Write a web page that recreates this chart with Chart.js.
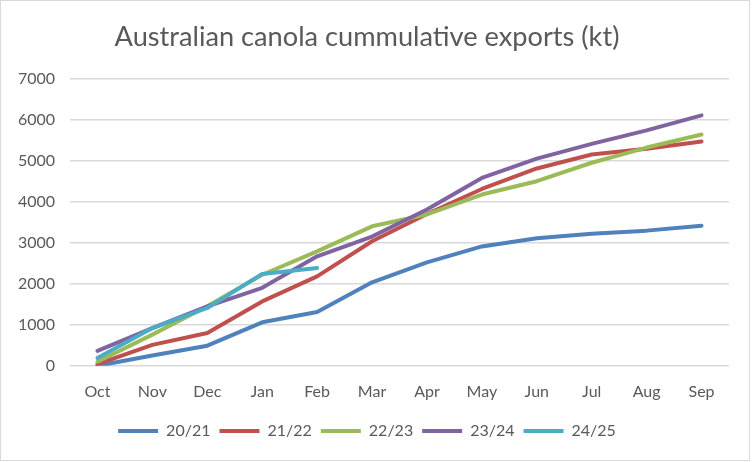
<!DOCTYPE html>
<html>
<head>
<meta charset="utf-8">
<script src="https://cdn.jsdelivr.net/npm/chart.js@4.4.0/dist/chart.umd.min.js"></script>
<style>
  html, body { margin: 0; padding: 0; background: #fff; }
  #wrap { position: absolute; left: 0; top: 0; width: 750px; height: 461px; border: 1px solid #d9d9d9; box-sizing: border-box; background: #fff; }
  canvas { position: absolute; left: 0; top: 0; }
</style>
</head>
<body>
<div id="wrap"><canvas id="c" width="748" height="459"></canvas></div>
<script>
const months = ['Oct','Nov','Dec','Jan','Feb','Mar','Apr','May','Jun','Jul','Aug','Sep'];
const seriesNames = ['20/21','21/22','22/23','23/24','24/25'];
const s2021 = [0, 250, 490, 1060, 1310, 2035, 2520, 2910, 3110, 3220, 3295, 3415];
const s2122 = [40, 510, 800, 1570, 2180, 3035, 3700, 4310, 4810, 5150, 5290, 5470];
const s2223 = [100, 760, 1450, 2220, 2790, 3400, 3690, 4175, 4500, 4950, 5320, 5640];
const s2324 = [365, 920, 1450, 1900, 2670, 3150, 3810, 4580, 5050, 5410, 5740, 6105];
const s2425 = [190, 920, 1410, 2240, 2385];
const yTicks = [0, 1000, 2000, 3000, 4000, 5000, 6000, 7000];

const colors = ['#4F81BD', '#C0504D', '#9BBB59', '#8064A2', '#4BACC6'];
const values = [s2021, s2122, s2223, s2324, s2425];

const datasets = values.map((v, i) => ({
  label: seriesNames[i],
  data: v,
  borderColor: colors[i],
  backgroundColor: colors[i],
  borderWidth: 4,
  borderCapStyle: 'round',
  borderJoinStyle: 'round',
  pointRadius: 0,
  pointHoverRadius: 0,
  tension: 0,
  fill: false,
  order: 5 - i
}));

new Chart(document.getElementById('c'), {
  type: 'line',
  data: { labels: months, datasets },
  options: {
    responsive: false,
    animation: false,
    devicePixelRatio: 1,
    layout: { padding: { left: 4, right: 20, top: 10, bottom: 11 } },
    plugins: {
      title: {
        display: true,
        text: 'Australian canola cummulative exports (kt)',
        color: '#595959',
        font: { family: 'Lato', size: 27.2, weight: 'normal' },
        padding: { top: 10, bottom: 25 }
      },
      legend: {
        position: 'bottom',
        labels: {
          usePointStyle: true,
          pointStyle: 'line',
          pointStyleWidth: 40,
          boxHeight: 4,
          color: '#595959',
          font: { family: 'Lato', size: 16 },
          padding: 9,
          sort: (a, b) => a.datasetIndex - b.datasetIndex
        }
      },
      tooltip: { enabled: false }
    },
    scales: {
      x: {
        offset: true,
        grid: { display: false },
        border: { display: false },
        afterFit: (scale) => { scale.height += 5; },
        ticks: { color: '#595959', font: { family: 'Lato', size: 16 }, padding: 8, maxRotation: 0 }
      },
      y: {
        min: 0,
        max: 7000,
        afterBuildTicks: (scale) => { scale.ticks = yTicks.map(v => ({ value: v })); },
        afterFit: (scale) => { scale.width = 65; },
        grid: { color: '#d9d9d9', lineWidth: 1.5, drawTicks: false },
        border: { display: false },
        ticks: { color: '#595959', font: { family: 'Lato', size: 16 }, padding: 15, callback: (v) => String(v) }
      }
    }
  }
});
</script>
</body>
</html>
